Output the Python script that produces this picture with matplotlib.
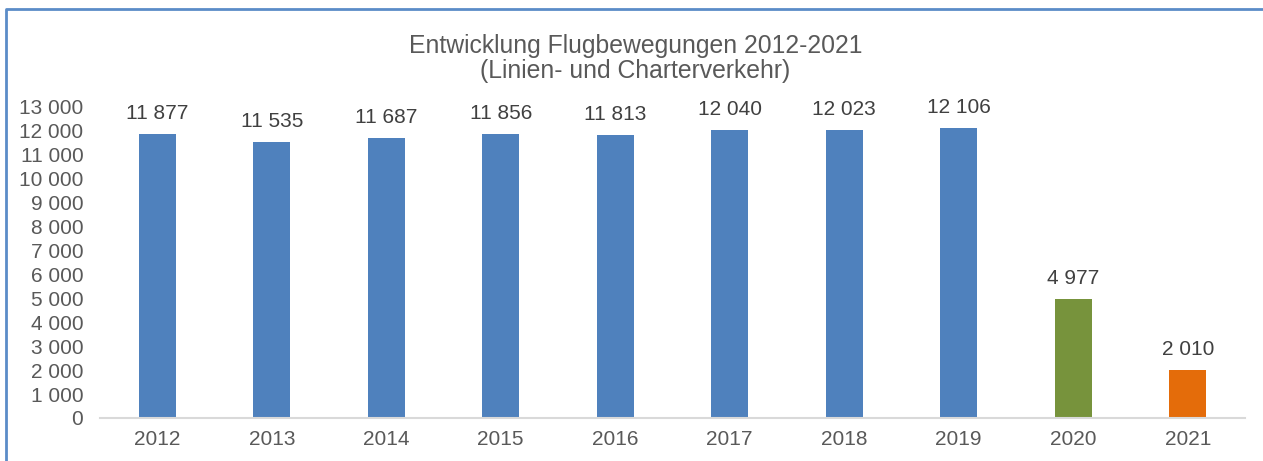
#!/usr/bin/env python

from matplotlib import pyplot as plt
from matplotlib.lines import Line2D

years = ["2012", "2013", "2014", "2015", "2016", "2017", "2018", "2019", "2020", "2021"]
movements = [11877, 11535, 11687, 11856, 11813, 12040, 12023, 12106, 4977, 2010]
bar_colors = ["#4F81BD"] * 8 + ["#77933C", "#E46C0A"]
yticks = list(range(0, 13001, 1000))

title = "Entwicklung Flugbewegungen 2012-2021\n(Linien- und Charterverkehr)"


def fmt(v):
	return "{:,}".format(v).replace(",", " ")


def main():
	plt.rcParams['font.family'] = ['Liberation Sans', 'DejaVu Sans']
	text_color = "#595959"

	fig = plt.figure(figsize=(12.63, 4.61), dpi=100)
	ax = fig.add_axes([0.0792, 0.0933, 0.9065, 0.6746])

	x = range(len(years))
	bars = ax.bar(x, movements, width=0.32, color=bar_colors)

	for b, v in zip(bars, movements):
		ax.annotate(fmt(v), (b.get_x() + b.get_width() / 2, b.get_height()),
					xytext=(0, 8), textcoords="offset points", ha="center", va="bottom",
					fontsize=15, color="#404040")

	ax.set_xlim(-0.5, len(years) - 0.5)
	ax.set_ylim(0, 13000)
	ax.set_xticks(list(x))
	ax.set_xticklabels(years)
	ax.set_yticks(yticks)
	ax.set_yticklabels([fmt(v) for v in yticks])
	ax.tick_params(axis="both", length=0, labelsize=15, colors=text_color)
	ax.tick_params(axis="x", pad=9)
	ax.tick_params(axis="y", pad=12)

	for s in ["top", "right", "left"]:
		ax.spines[s].set_visible(False)
	ax.spines["bottom"].set_color("#D9D9D9")
	ax.spines["bottom"].set_linewidth(1.5)

	fig.text(0.503, 0.873, title, ha="center", va="center", fontsize=17.8,
			 color=text_color, linespacing=1.1)

	# frame of the chart box (only top and left edge visible in the crop)
	fig.add_artist(Line2D([0.005, 0.005, 1.0], [0.0, 0.98, 0.98],
						  transform=fig.transFigure, color="#5B8CC8", linewidth=2))

	fig.savefig("out.png", dpi=100)


if __name__ == "__main__":
	main()
